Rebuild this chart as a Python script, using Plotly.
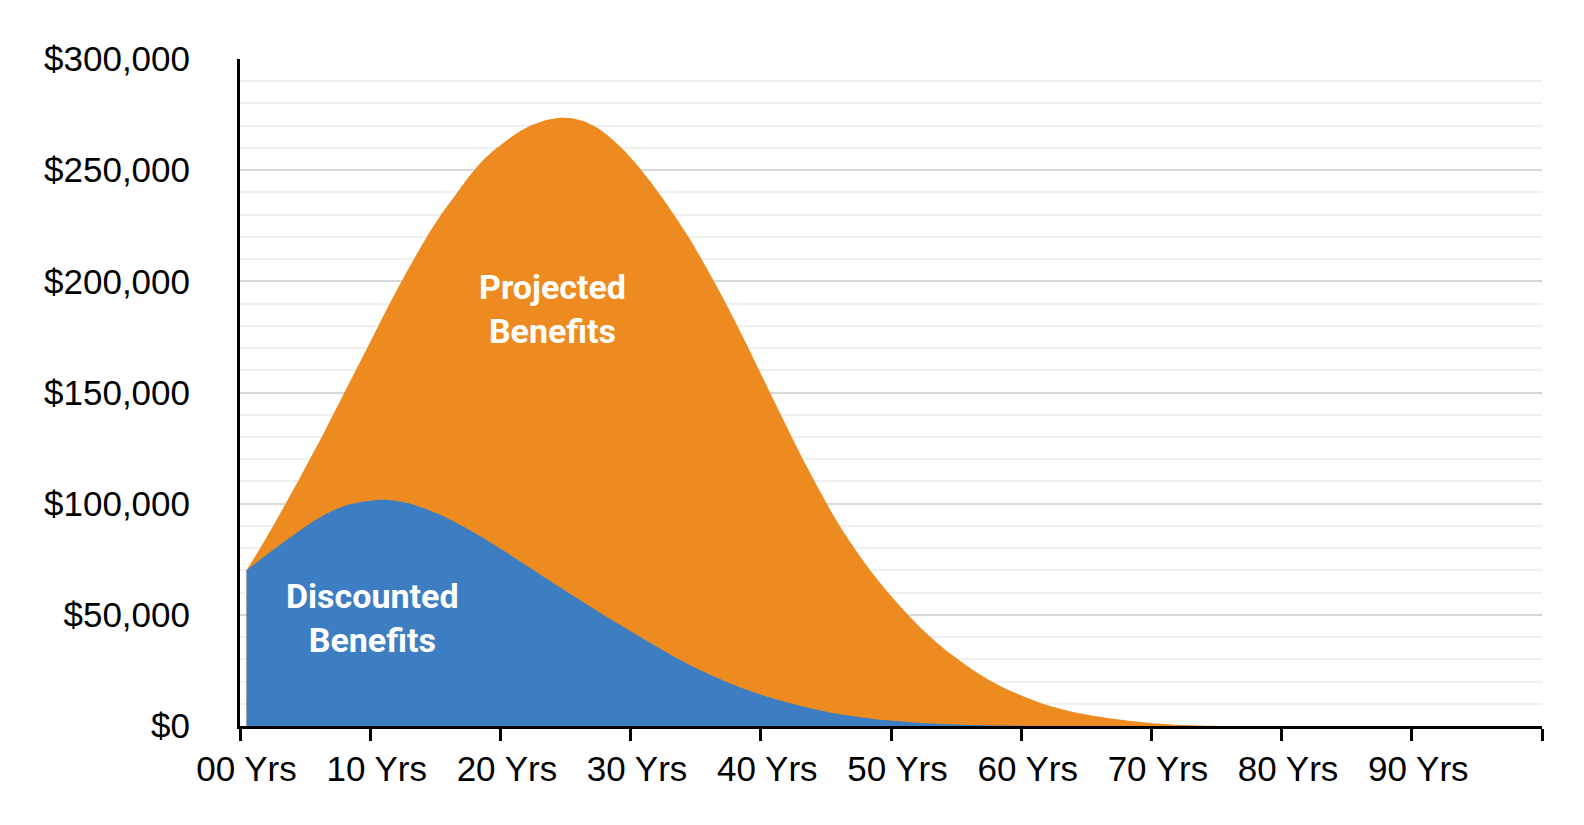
import plotly.graph_objects as go

# one value per year (category), in thousands of dollars
years = list(range(100))
year_labels = ["%02d Yrs" % y for y in range(0, 100, 10)]

projected_k = [
    70, 79.5, 89.5, 100, 110.5, 121.5, 132.5, 144, 155.5, 167,
    178.5, 190, 201, 211.5, 221.5, 230.5, 238.5, 246.5, 253.5, 259,
    263.5, 267.5, 270.5, 272.5, 273.5, 273.3, 271.8, 268.8, 264.3, 258.8,
    252.3, 245, 237, 228.5, 219.5, 209.5, 199, 188, 176.5, 164.5,
    152.5, 140.5, 128.5, 117, 106, 95.5, 86, 77.3, 69.3, 62,
    55.2, 48.8, 42.9, 37.6, 32.8, 28.5, 24.4, 20.8, 17.7, 15,
    12.6, 10.4, 8.5, 7, 5.7, 4.6, 3.7, 2.9, 2.2, 1.6,
    1.1, 0.7, 0.4, 0.2, 0.08, 0, 0, 0, 0, 0,
    0, 0, 0, 0, 0, 0, 0, 0, 0, 0,
    0, 0, 0, 0, 0, 0, 0, 0, 0, 0,
]

discounted_k = [
    70, 74.5, 79, 83.3, 87.5, 91.5, 95, 97.8, 99.8, 101,
    101.7, 101.6, 100.7, 99.2, 97.2, 94.7, 91.8, 88.6, 85.2, 81.6,
    77.9, 74.1, 70.3, 66.5, 62.7, 58.9, 55.2, 51.5, 47.9, 44.4,
    40.9, 37.4, 34, 30.7, 27.6, 24.7, 22, 19.5, 17.2, 15.1,
    13.2, 11.5, 9.9, 8.4, 7.1, 5.9, 4.9, 4.0, 3.3, 2.7,
    2.2, 1.7, 1.3, 1.0, 0.75, 0.55, 0.4, 0.28, 0.18, 0.1,
    0.05, 0, 0, 0, 0, 0, 0, 0, 0, 0,
    0, 0, 0, 0, 0, 0, 0, 0, 0, 0,
    0, 0, 0, 0, 0, 0, 0, 0, 0, 0,
    0, 0, 0, 0, 0, 0, 0, 0, 0, 0,
]

ORANGE = "#EE8B20"
BLUE = "#3D7EC2"

# categories sit in the middle of their slot, like an Excel category axis
xs = [y + 0.5 for y in years]

fig = go.Figure()
fig.add_trace(go.Scatter(
    x=xs, y=[v * 1000 for v in projected_k], mode="lines",
    line=dict(width=0, color=ORANGE, shape="spline", smoothing=0.6),
    fill="tozeroy", fillcolor=ORANGE,
    name="Projected Benefits", hoverinfo="skip"))
fig.add_trace(go.Scatter(
    x=xs, y=[v * 1000 for v in discounted_k], mode="lines",
    line=dict(width=0, color=BLUE, shape="spline", smoothing=0.6),
    fill="tozeroy", fillcolor=BLUE,
    name="Discounted Benefits", hoverinfo="skip"))
# empty trace so the tick-mark axis (x2) gets drawn
fig.add_trace(go.Scatter(
    x=[0, 100], y=[0, 0], xaxis="x2", yaxis="y", mode="lines",
    line=dict(width=0), hoverinfo="skip", showlegend=False))

label_font = dict(family="Roboto", size=34, color="white")
fig.add_annotation(x=24.0, y=187500, text="<b>Projected<br>Benefits</b>",
                   showarrow=False, font=label_font)
fig.add_annotation(x=10.2, y=48500, text="<b>Discounted<br>Benefits</b>",
                   showarrow=False, font=label_font)

axis_font = dict(family="Liberation Sans", size=35, color="black")

fig.update_layout(
    width=1584, height=825,
    margin=dict(l=232, r=50, t=51, b=107),
    paper_bgcolor="white", plot_bgcolor="white",
    showlegend=False,
    xaxis=dict(
        range=[0, 100], showgrid=False, zeroline=False,
        tickvals=[y + 0.5 for y in range(0, 100, 10)], ticktext=year_labels,
        ticks="outside", ticklen=12, tickcolor="rgba(0,0,0,0)",
        tickfont=axis_font, showline=False),
    xaxis2=dict(
        overlaying="x", anchor="y", side="bottom", range=[0, 100],
        tickvals=list(range(0, 101, 10)), showticklabels=False,
        ticks="outside", ticklen=12, tickwidth=3, tickcolor="black",
        showline=True, linecolor="black", linewidth=3,
        showgrid=False, zeroline=False),
    yaxis=dict(
        range=[0, 300000], tickvals=list(range(0, 300001, 50000)),
        tickformat="$,.0f", tickfont=axis_font, ticklabelstandoff=40,
        showgrid=True, gridcolor="#d9d9d9", gridwidth=2,
        minor=dict(dtick=10000, showgrid=True, gridcolor="#f0f0f0", gridwidth=2),
        showline=True, linecolor="black", linewidth=3, zeroline=False),
)

fig.write_html("out.html")
